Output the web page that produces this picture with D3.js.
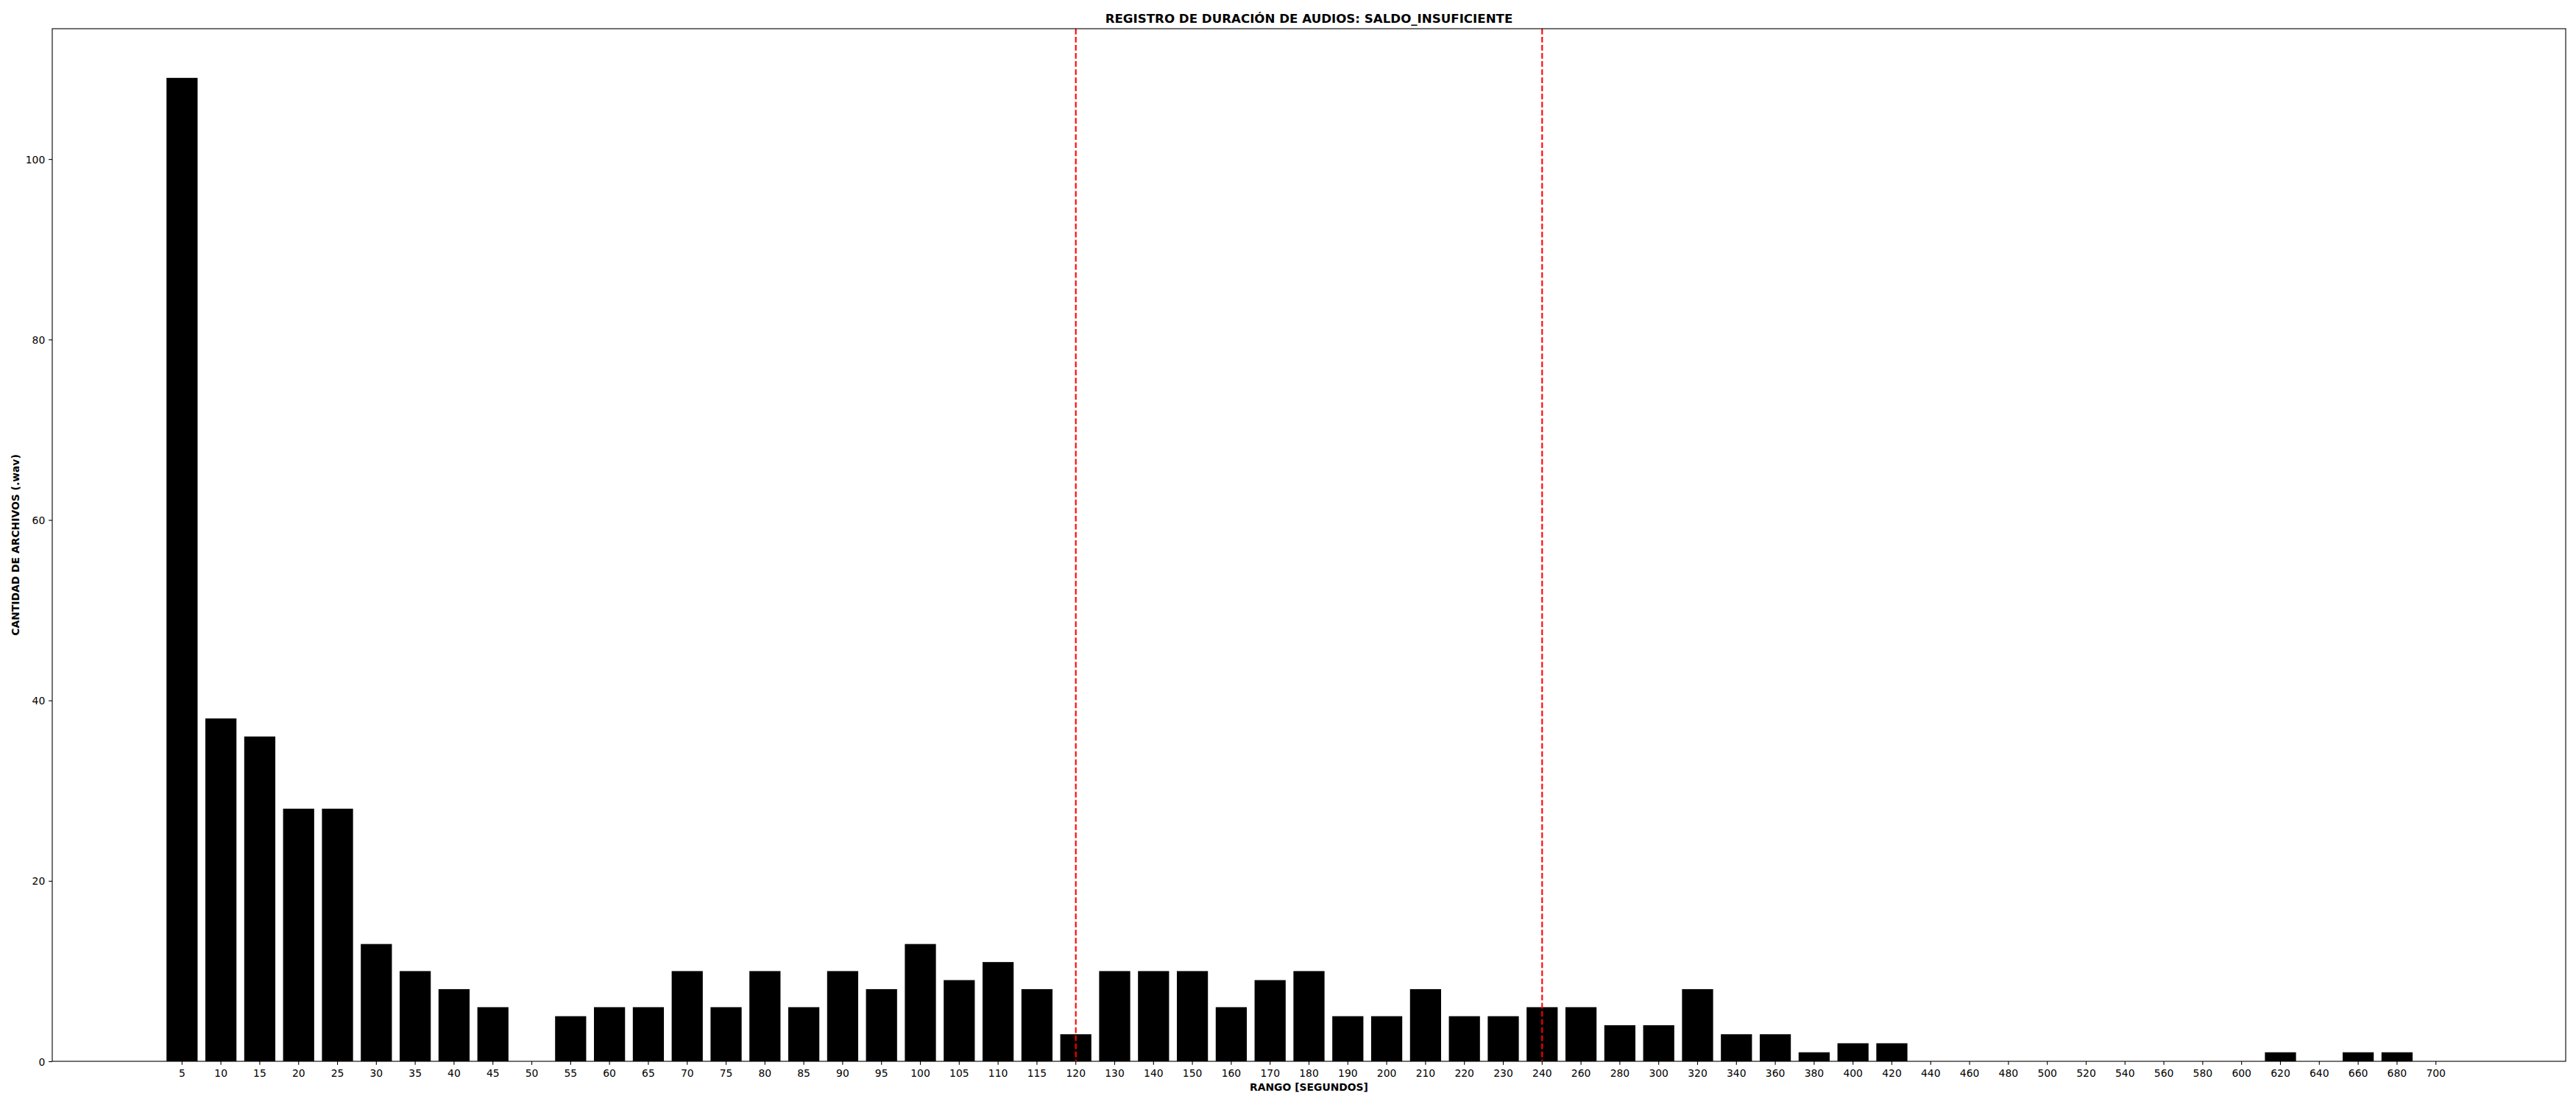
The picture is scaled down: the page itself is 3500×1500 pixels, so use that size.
<!DOCTYPE html>
<html>
<head>
<meta charset="utf-8">
<script src="https://cdn.jsdelivr.net/npm/d3@7"></script>
<style>
  html, body { margin: 0; padding: 0; background: #ffffff; }
  svg { display: block; font-family: "DejaVu Sans", sans-serif; }
</style>
</head>
<body>
<svg id="chart" width="3500" height="1500"></svg>
<script>
// ---- data ----
const categories = ["5","10","15","20","25","30","35","40","45","50","55","60","65","70","75","80","85","90","95","100","105","110","115","120",
  "130","140","150","160","170","180","190","200","210","220","230","240",
  "260","280","300","320","340","360","380","400","420","440","460","480","500","520","540","560","580","600","620","640","660","680","700"];
const counts = [109,38,36,28,28,13,10,8,6,0,5,6,6,10,6,10,6,10,8,13,9,11,8,3,
  10,10,10,6,9,10,5,5,8,5,5,6,
  6,4,4,8,3,3,1,2,2,0,0,0,0,0,0,0,0,0,1,0,1,1,0];
const markers = ["120","240"];
const yTicks = [0,20,40,60,80,100];
const titleText = "REGISTRO DE DURACIÓN DE AUDIOS: SALDO_INSUFICIENTE";
const xLabelText = "RANGO [SEGUNDOS]";
const yLabelText = "CANTIDAD DE ARCHIVOS (.wav)";

(function () {
// ---- layout ----
const mLeft = 71, mRight = 3486, mTop = 39, mBottom = 1442;
const svg = d3.select("#chart");

const x = d3.scaleBand().domain(categories).range([mLeft, mRight])
  .paddingInner(0.2).paddingOuter(2.94);
const y = d3.scaleLinear().domain([0, d3.max(counts) * 1.05]).range([mBottom, mTop]);

// bars
svg.append("g").selectAll("rect").data(categories).join("rect")
  .attr("x", d => x(d))
  .attr("width", x.bandwidth())
  .attr("y", (d, i) => y(counts[i]))
  .attr("height", (d, i) => y(0) - y(counts[i]))
  .attr("fill", "#000000");

// red dashed markers
svg.append("g").selectAll("line").data(markers).join("line")
  .attr("x1", d => x(d) + x.bandwidth() / 2)
  .attr("x2", d => x(d) + x.bandwidth() / 2)
  .attr("y1", mTop).attr("y2", mBottom)
  .attr("stroke", "#ff0000")
  .attr("stroke-width", 2.08)
  .attr("stroke-dasharray", "7.7,3.33");

// axes
const tickFont = 13.9;
const xAxis = svg.append("g").attr("transform", `translate(0,${mBottom})`)
  .call(d3.axisBottom(x).tickSize(4.86).tickPadding(4.86).tickSizeOuter(0));
xAxis.select(".domain").remove();
xAxis.selectAll(".tick line").attr("stroke", "#000").attr("stroke-width", 1.1);
xAxis.selectAll(".tick text").attr("font-size", tickFont).attr("fill", "#000")
  .attr("font-family", "DejaVu Sans").attr("dy", null).attr("y", 20.5);

const yAxis = svg.append("g").attr("transform", `translate(${mLeft},0)`)
  .call(d3.axisLeft(y).tickValues(yTicks).tickFormat(d3.format("d")).tickSize(4.86).tickPadding(4.86).tickSizeOuter(0));
yAxis.select(".domain").remove();
yAxis.selectAll(".tick line").attr("stroke", "#000").attr("stroke-width", 1.1);
yAxis.selectAll(".tick text").attr("font-size", tickFont).attr("fill", "#000")
  .attr("font-family", "DejaVu Sans").attr("dy", "0.36em");

// frame
svg.append("rect").attr("x", mLeft).attr("y", mTop)
  .attr("width", mRight - mLeft).attr("height", mBottom - mTop)
  .attr("fill", "none").attr("stroke", "#000").attr("stroke-width", 1.1);

// title & labels
svg.append("text").attr("x", (mLeft + mRight) / 2).attr("y", 30.7)
  .attr("text-anchor", "middle").attr("font-size", 16.67).attr("font-weight", "bold")
  .text(titleText);
svg.append("text").attr("x", (mLeft + mRight) / 2).attr("y", 1482)
  .attr("text-anchor", "middle").attr("font-size", 13.9).attr("font-weight", "bold")
  .text(xLabelText);
svg.append("text").attr("transform", `translate(25.5,${(mTop + mBottom) / 2}) rotate(-90)`)
  .attr("text-anchor", "middle").attr("font-size", 13.9).attr("font-weight", "bold")
  .text(yLabelText);
})();
</script>
</body>
</html>
